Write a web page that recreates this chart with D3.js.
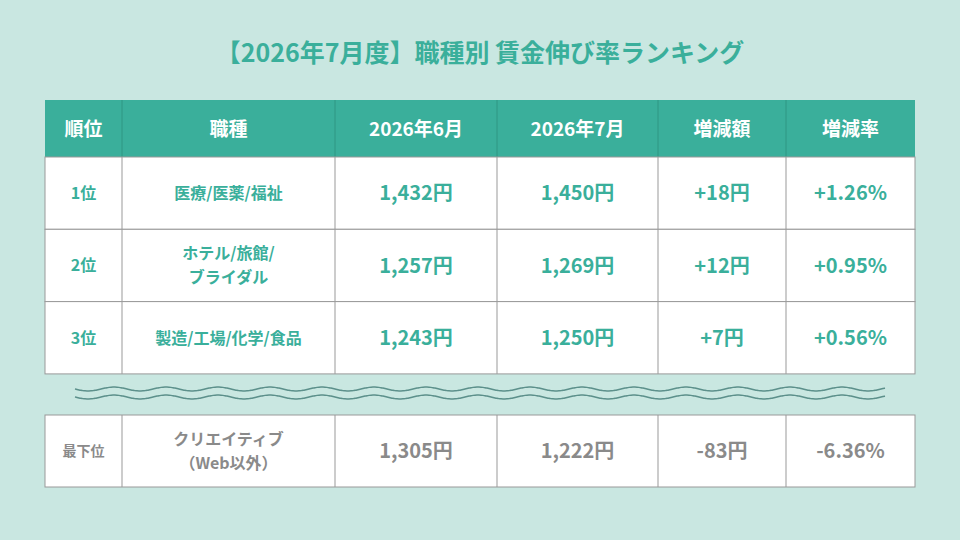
<!DOCTYPE html>
<html><head><meta charset="utf-8">
<script src="https://cdn.jsdelivr.net/npm/d3@7"></script>
<style>body{margin:0;background:#c9e7e1}svg{display:block}</style>
</head><body><svg id="chart" width="960" height="540"></svg>
<script>
let title = '【2026年7月度】職種別 賃金伸び率ランキング'
let headers = ['順位','職種','2026年6月','2026年7月','増減額','増減率']
let ranks = ['1位','2位','3位']
let jobs = [['医療/医薬/福祉'],['ホテル/旅館/','ブライダル'],['製造/工場/化学/食品']]
let june = [1432,1257,1243]
let july = [1450,1269,1250]
let diff = [18,12,7]
let rate = [1.26,0.95,0.56]
let bottomRank = '最下位'
let bottomJob = ['クリエイティブ','（Web以外）']
let bottomVals = [1305,1222,-83,-6.36]

let colW = [77,213,162,161,128,129]
let font = '"Noto Sans CJK JP","Noto Sans",sans-serif'
let teal = '#3aaf9b'
let svg = d3.select('#chart')
let xs = [45]; colW.forEach(w=>xs.push(xs[xs.length-1]+w))
let fmt = d3.format(',')
let sign = v => (v>0?'+':'')+v

svg.append('text').attr('x',480).attr('y',62).attr('text-anchor','middle')
  .attr('font-family',font).attr('font-weight',700).attr('font-size',25).attr('fill',teal).text(title)

// header
svg.append('rect').attr('x',45).attr('y',100).attr('width',870).attr('height',57).attr('fill',teal)
headers.forEach((h,j)=>{
  svg.append('text').attr('x',(xs[j]+xs[j+1])/2).attr('y',136).attr('text-anchor','middle')
    .attr('font-family',font).attr('font-weight',700).attr('font-size',19).attr('fill','#fff').text(h)
  if(j>0) svg.append('line').attr('x1',xs[j]).attr('x2',xs[j]).attr('y1',100).attr('y2',157).attr('stroke','#2e9683')
})

function drawRow(top,h,cells,color){
  svg.append('rect').attr('x',45).attr('y',top).attr('width',870).attr('height',h)
    .attr('fill','#fff').attr('stroke','#999').attr('stroke-width',1)
  cells.forEach((c,j)=>{
    if(j>0) svg.append('line').attr('x1',xs[j]).attr('x2',xs[j]).attr('y1',top).attr('y2',top+h).attr('stroke','#999')
    let lines = Array.isArray(c)?c:[c]
    let size = j===0||j===1 ? 16 : 20
    lines.forEach((t,k)=>{
      svg.append('text').attr('class','c'+j).attr('x',(xs[j]+xs[j+1])/2)
        .attr('y',top+h/2+(k-(lines.length-1)/2)*24).attr('dy','0.36em').attr('text-anchor','middle')
        .attr('font-family',font).attr('font-weight',700).attr('font-size',size).attr('fill',color).text(t)
    })
  })
}
ranks.forEach((r,i)=>{
  drawRow(157+i*72.3,72.3,[r,jobs[i],fmt(june[i])+'円',fmt(july[i])+'円',sign(diff[i])+'円',sign(rate[i].toFixed(2))+'%'],teal)
})
drawRow(415,72,[bottomRank,bottomJob,fmt(bottomVals[0])+'円',fmt(bottomVals[1])+'円',bottomVals[2]+'円',bottomVals[3].toFixed(2)+'%'],'#8a8a8a')
svg.selectAll('text').filter(function(){return d3.select(this).text()===bottomRank}).attr('font-size',14)

// wavy separator
let wx = d3.range(75,886,2)
;[389,397].forEach(base=>{
  svg.append('path').attr('d',d3.line().curve(d3.curveBasis)(wx.map(x=>[x,base+2*Math.sin((x-75)/52*2*Math.PI)])))
    .attr('fill','none').attr('stroke','#5c908b').attr('stroke-width',1.5)
})
</script></body></html>
